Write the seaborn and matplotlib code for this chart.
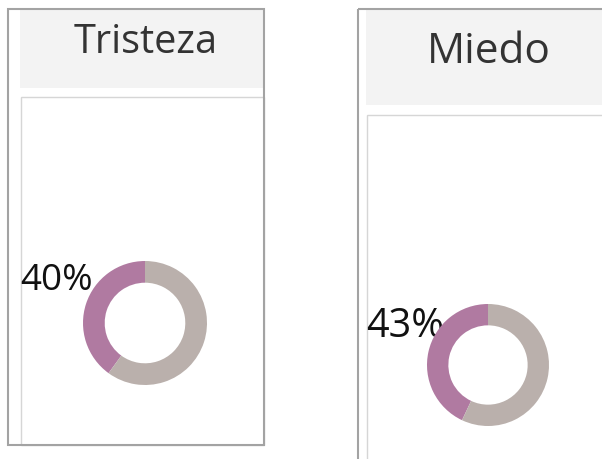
import matplotlib
matplotlib.use("Agg")
import matplotlib.pyplot as plt
from matplotlib.patches import Rectangle
import seaborn as sns

# Share of each emotion
emotions = ["Tristeza", "Miedo"]
percentages = [40, 43]
segment_colors = ["#b07aa1", "#bab0ac"]

sns.set_theme(style="white")
plt.rcParams["font.family"] = ["Open Sans", "DejaVu Sans"]

W, H, DPI = 602, 459, 100
fig = plt.figure(figsize=(W / DPI, H / DPI), dpi=DPI)
fig.patch.set_facecolor("white")

# Background canvas in pixel units (y grows downward)
bg = fig.add_axes([0, 0, 1, 1])
bg.set_xlim(0, W)
bg.set_ylim(H, 0)
bg.axis("off")

# Panel layout (pixel boxes: x0, y0, x1, y1)
layout = [
    dict(frame=(7.5, 8.5, 264, 445), header=(20, 10, 263, 88),
         inner=(20.5, 97, 264, 445), title_xy=(146, 53), title_size=28.5,
         center=(145, 323), radius=62, label_xy=(20, 290), label_size=26.5),
    dict(frame=(358, 8.5, 620, 480), header=(366, 10, 602, 105),
         inner=(366.5, 115, 620, 480), title_xy=(489, 63), title_size=30.5,
         center=(488, 365), radius=61, label_xy=(366, 337), label_size=28.5),
]


def rect(box, **kw):
    x0, y0, x1, y1 = box
    bg.add_patch(Rectangle((x0, y0), x1 - x0, y1 - y0, **kw))


for name, pct, lay in zip(emotions, percentages, layout):
    rect(lay["header"], facecolor="#f3f3f3", edgecolor="none", zorder=1)
    rect(lay["inner"], facecolor="white", edgecolor="#d6d6d6",
         linewidth=1.0, zorder=2)
    rect(lay["frame"], facecolor="none", edgecolor="#a3a3a3",
         linewidth=1.5, zorder=3)

    tx, ty = lay["title_xy"]
    bg.text(tx, ty, name, ha="center", va="baseline",
            fontsize=lay["title_size"], color="#333333", zorder=4)

    cx, cy = lay["center"]
    r = lay["radius"]
    ax = fig.add_axes([(cx - r) / W, 1 - (cy + r) / H, 2 * r / W, 2 * r / H])
    ax.pie([pct, 100 - pct], colors=segment_colors, startangle=90,
           counterclock=True, radius=1.0,
           wedgeprops=dict(width=0.35, linewidth=0))
    ax.set_xlim(-1, 1)
    ax.set_ylim(-1, 1)
    ax.set_aspect("auto")
    ax.axis("off")

    lx, ly = lay["label_xy"]
    bg.text(lx, ly, f"{pct}%", ha="left", va="baseline",
            fontsize=lay["label_size"], color="#111111", zorder=6)

fig.savefig("out.png", dpi=DPI, facecolor="white")
